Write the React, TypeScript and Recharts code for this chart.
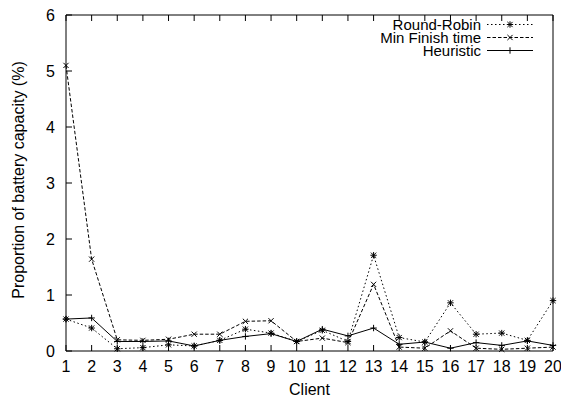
import React from 'react';
import { LineChart, Line, XAxis, YAxis, Legend } from 'recharts';

const clients = [1, 2, 3, 4, 5, 6, 7, 8, 9, 10, 11, 12, 13, 14, 15, 16, 17, 18, 19, 20];
const roundRobin = [0.57, 0.41, 0.04, 0.06, 0.11, 0.09, 0.19, 0.39, 0.32, 0.17, 0.37, 0.17, 1.71, 0.24, 0.16, 0.86, 0.30, 0.32, 0.19, 0.90];
const minFinish = [5.10, 1.64, 0.20, 0.19, 0.21, 0.30, 0.30, 0.53, 0.54, 0.17, 0.23, 0.15, 1.19, 0.07, 0.05, 0.36, 0.05, 0.03, 0.05, 0.07];
const heuristic = [0.57, 0.59, 0.17, 0.17, 0.18, 0.09, 0.19, 0.26, 0.31, 0.17, 0.39, 0.27, 0.41, 0.12, 0.16, 0.05, 0.15, 0.10, 0.18, 0.10];
const yTicks = [0, 1, 2, 3, 4, 5, 6];
const seriesNames = ['Round-Robin', 'Min Finish time', 'Heuristic'];

const data = clients.map((c, i) => ({
  client: c,
  rr: roundRobin[i],
  mf: minFinish[i],
  h: heuristic[i],
}));

const FONT = "'Liberation Sans', Arial, Helvetica, sans-serif";
const FS = 16;
const LFS = 15;
const TICK = 6;

type MarkKind = 'star' | 'cross' | 'plus';

function markPath(kind: MarkKind, cx: number, cy: number): string {
  const r = 3.2;
  const d = 2.6;
  if (kind === 'plus') {
    return `M${cx - r},${cy}L${cx + r},${cy}M${cx},${cy - r}L${cx},${cy + r}`;
  }
  if (kind === 'cross') {
    return `M${cx - d},${cy - d}L${cx + d},${cy + d}M${cx - d},${cy + d}L${cx + d},${cy - d}`;
  }
  return `M${cx - r},${cy}L${cx + r},${cy}M${cx},${cy - r}L${cx},${cy + r}M${cx - d},${cy - d}L${cx + d},${cy + d}M${cx - d},${cy + d}L${cx + d},${cy - d}`;
}

const makeDot = (kind: MarkKind) => (p: any) => {
  if (p.cx == null || p.cy == null) return <g key={p.index} />;
  return <path key={p.index} d={markPath(kind, p.cx, p.cy)} stroke="#000" strokeWidth={1} fill="none" />;
};

const seriesStyles: { key: string; dash: string | undefined; kind: MarkKind }[] = [
  { key: 'rr', dash: '1.5 2.5', kind: 'star' },
  { key: 'mf', dash: '3.5 2', kind: 'cross' },
  { key: 'h', dash: undefined, kind: 'plus' },
];

const BottomTick = (p: any) => {
  const { x, y, payload } = p;
  return (
    <g>
      <line x1={x} y1={y} x2={x} y2={y - TICK} stroke="#000" strokeWidth={1} />
      <text x={x} y={y + 21} textAnchor="middle" fontFamily={FONT} fontSize={FS} fill="#000">
        {payload.value}
      </text>
    </g>
  );
};

const TopTick = (p: any) => {
  const { x, y } = p;
  return <line x1={x} y1={y} x2={x} y2={y + TICK} stroke="#000" strokeWidth={1} />;
};

const LeftTick = (p: any) => {
  const { x, y, payload } = p;
  return (
    <g>
      <line x1={x} y1={y} x2={x + TICK} y2={y} stroke="#000" strokeWidth={1} />
      <text x={x - 11} y={y} dy={5.7} textAnchor="end" fontFamily={FONT} fontSize={FS} fill="#000">
        {payload.value}
      </text>
    </g>
  );
};

const RightTick = (p: any) => {
  const { x, y } = p;
  return <line x1={x} y1={y} x2={x - TICK} y2={y} stroke="#000" strokeWidth={1} />;
};

const XLabel = (p: any) => {
  const vb = p.viewBox || { x: 0, y: 0, width: 0, height: 0 };
  return (
    <text x={vb.x + vb.width / 2} y={vb.y + 44} textAnchor="middle" fontFamily={FONT} fontSize={FS} fill="#000">
      Client
    </text>
  );
};

const YLabel = (p: any) => {
  const vb = p.viewBox || { x: 0, y: 0, width: 0, height: 0 };
  const cx = vb.x + 24;
  const cy = vb.y + vb.height / 2 - 3;
  return (
    <text
      transform={`translate(${cx},${cy}) rotate(-90)`}
      textAnchor="middle"
      fontFamily={FONT}
      fontSize={FS}
      fill="#000"
    >
      Proportion of battery capacity (%)
    </text>
  );
};

const ROW = 13;

const LegendContent = () => (
  <div style={{ fontFamily: FONT, fontSize: LFS, color: '#000' }}>
    {seriesNames.map((name, i) => {
      const st = seriesStyles[i];
      return (
        <div key={name} style={{ display: 'flex', justifyContent: 'flex-end', alignItems: 'center', height: ROW, lineHeight: `${ROW}px` }}>
          <span style={{ whiteSpace: 'nowrap' }}>{name}</span>
          <svg width={46} height={ROW} style={{ marginLeft: 6, display: 'block' }}>
            <line x1={0} y1={ROW / 2} x2={46} y2={ROW / 2} stroke="#000" strokeWidth={1} strokeDasharray={st.dash} />
            <path d={markPath(st.kind, 23, ROW / 2)} stroke="#000" strokeWidth={1} fill="none" />
          </svg>
        </div>
      );
    })}
  </div>
);

export default function App() {
  return (
    <div style={{ position: 'absolute', left: 0, top: 0, width: 561, height: 399, background: '#fff' }}>
      <LineChart
        width={561}
        height={399}
        data={data}
        margin={{ top: 0, right: 0, bottom: 0, left: 0 }}
        style={{ overflow: 'visible' }}
      >
        <XAxis
          xAxisId="b"
          dataKey="client"
          type="number"
          domain={[1, 20]}
          ticks={clients}
          interval={0}
          orientation="bottom"
          height={48}
          tickSize={0}
          tickMargin={0}
          tickLine={false}
          axisLine={{ stroke: '#000', strokeWidth: 1 }}
          tick={BottomTick}
          label={<XLabel />}
        />
        <XAxis
          xAxisId="t"
          dataKey="client"
          type="number"
          domain={[1, 20]}
          ticks={clients}
          interval={0}
          orientation="top"
          height={15}
          tickSize={0}
          tickMargin={0}
          tickLine={false}
          axisLine={{ stroke: '#000', strokeWidth: 1 }}
          tick={TopTick}
        />
        <YAxis
          yAxisId="l"
          type="number"
          domain={[0, 6]}
          ticks={yTicks}
          interval={0}
          orientation="left"
          width={66}
          tickSize={0}
          tickMargin={0}
          tickLine={false}
          axisLine={{ stroke: '#000', strokeWidth: 1 }}
          tick={LeftTick}
          label={<YLabel />}
        />
        <YAxis
          yAxisId="r"
          type="number"
          domain={[0, 6]}
          ticks={yTicks}
          interval={0}
          orientation="right"
          width={8}
          tickSize={0}
          tickMargin={0}
          tickLine={false}
          axisLine={{ stroke: '#000', strokeWidth: 1 }}
          tick={RightTick}
        />
        <Legend
          layout="vertical"
          align="center"
          verticalAlign="middle"
          content={LegendContent}
          wrapperStyle={{ position: 'absolute', top: 17.5, right: 28, left: 'auto', bottom: 'auto', width: 'auto' }}
        />
        {seriesStyles.map((st, i) => (
          <Line
            key={st.key}
            xAxisId="b"
            yAxisId="l"
            type="linear"
            dataKey={st.key}
            name={seriesNames[i]}
            stroke="#000"
            strokeWidth={1}
            strokeDasharray={st.dash}
            dot={makeDot(st.kind)}
            activeDot={false}
            isAnimationActive={false}
          />
        ))}
      </LineChart>
    </div>
  );
}
